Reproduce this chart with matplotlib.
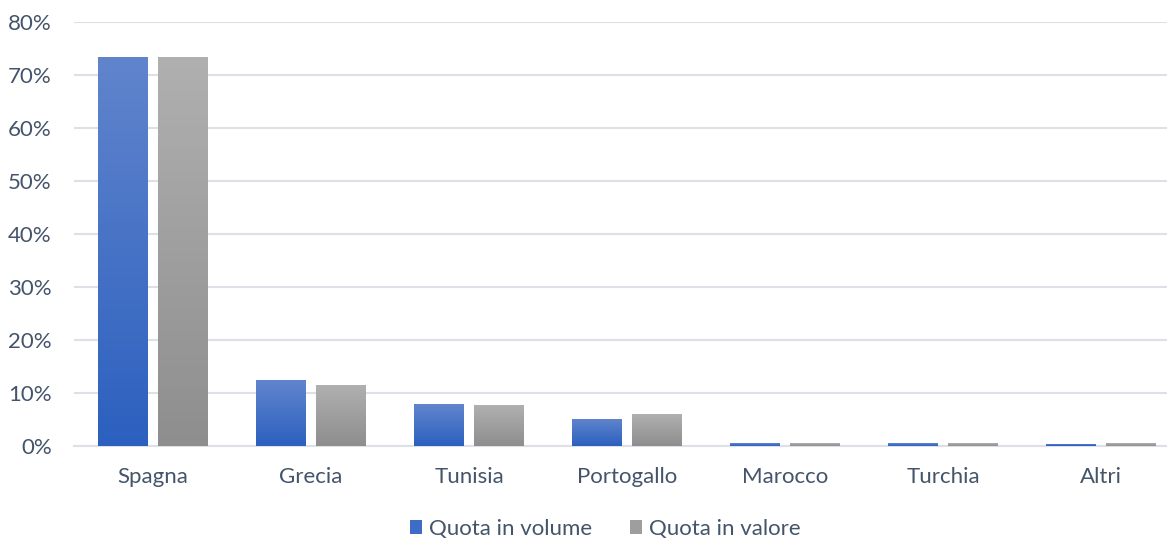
import numpy as np
import matplotlib.pyplot as plt
from matplotlib.colors import LinearSegmentedColormap
from matplotlib.patches import Patch
from matplotlib.ticker import FuncFormatter, MultipleLocator

plt.rcParams['font.family'] = ['Lato', 'DejaVu Sans']

# Quote di mercato per paese di origine (%)
paesi = ['Spagna', 'Grecia', 'Tunisia', 'Portogallo', 'Marocco', 'Turchia', 'Altri']
quota_volume = [73.4, 12.4, 7.9, 5.1, 0.55, 0.55, 0.4]
quota_valore = [73.4, 11.5, 7.7, 6.0, 0.5, 0.5, 0.5]

text_col = '#44546a'
grid_col = '#dde1e7'

# gradients (top -> bottom)
cmap_blu = LinearSegmentedColormap.from_list('blu', ['#6185cd', '#2c60bf'])
cmap_gri = LinearSegmentedColormap.from_list('gri', ['#b0b0b0', '#8e8e8e'])

fig = plt.figure(figsize=(11.67, 5.39), dpi=100)
ax = fig.add_axes([74 / 1167, 93 / 539, (1167 - 74) / 1167, 424 / 539])

x = np.arange(len(paesi))
w = 0.316
off = 0.19

b1 = ax.bar(x - off, quota_volume, w, color='#4a74c8', zorder=2)
b2 = ax.bar(x + off, quota_valore, w, color='#a0a0a0', zorder=2)

grad = np.linspace(0, 1, 256).reshape(-1, 1)
for bars, cmap in ((b1, cmap_blu), (b2, cmap_gri)):
    for p in bars:
        x0, y0 = p.get_x(), p.get_y()
        x1, y1 = x0 + p.get_width(), y0 + p.get_height()
        im = ax.imshow(grad, cmap=cmap, extent=(x0, x1, y0, y1), aspect='auto',
                       origin='upper', zorder=3, interpolation='bilinear')
        im.set_clip_path(p)
        p.set_alpha(0)

ax.set_xlim(-0.5, -0.5 + (1167 - 74) / 158)
ax.set_ylim(0, 80)
ax.yaxis.set_major_locator(MultipleLocator(10))
ax.yaxis.set_major_formatter(FuncFormatter(lambda v, _: f'{v:.0f}%'))
ax.grid(axis='y', color=grid_col, linewidth=1.5, zorder=0)
ax.set_axisbelow(True)
for s in ('top', 'right', 'left'):
    ax.spines[s].set_visible(False)
ax.spines['bottom'].set_color(grid_col)
ax.spines['bottom'].set_linewidth(1.5)

ax.set_xticks(x)
ax.set_xticklabels(paesi)
ax.tick_params(axis='both', length=0, labelsize=16, labelcolor=text_col)
ax.tick_params(axis='x', pad=15)
ax.tick_params(axis='y', pad=16)

handles = [Patch(facecolor='#3f6cc6', label='Quota in volume'),
           Patch(facecolor='#9e9e9e', label='Quota in valore')]
fig.legend(handles=handles, loc='center', bbox_to_anchor=(605 / 1167, 1 - 529 / 539),
           ncol=2, frameon=False, fontsize=16, labelcolor=text_col,
           handlelength=0.55, handleheight=0.55, handletextpad=0.3, columnspacing=1.7)

fig.savefig('out.png', dpi=100)
